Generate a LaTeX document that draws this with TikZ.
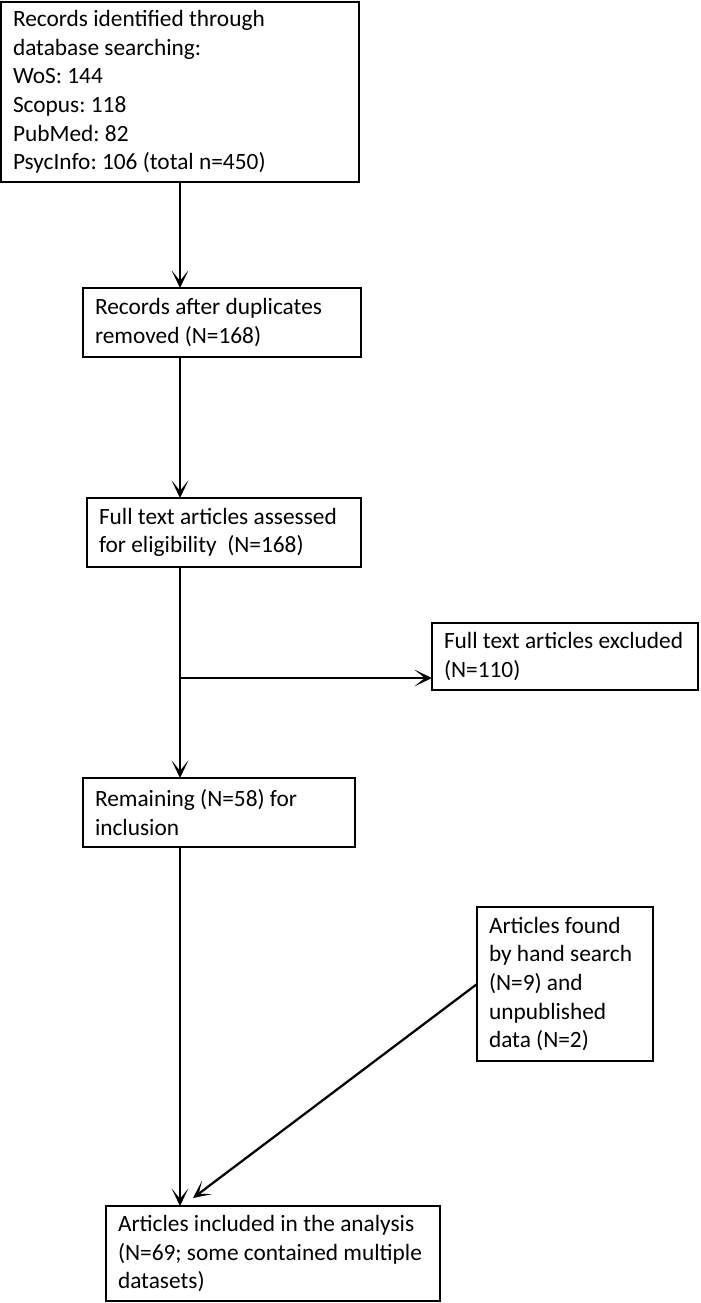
\documentclass[tikz,border=0pt]{standalone}
\usepackage{fontspec}
\setmainfont{Carlito}
\frenchspacing
\usetikzlibrary{arrows.meta, calc}
\tikzset{
	flowbox/.style={draw, line width=1.1pt, anchor=north west, align=flush left, inner xsep=0.3cm, inner ysep=0.1cm, outer sep=0pt,
		font=\fontsize{16.6}{20.3}\selectfont},
	flowarrow/.style={-{Stealth[length=0.44cm, width=0.42cm, inset=0.26cm]}, line width=1.6pt}
}

\begin{document}
\begin{tikzpicture}[x=0.025cm, y=-0.025cm]
		\useasboundingbox (0,0) rectangle (700,1303);
		
		\node[flowbox, text width=8.35cm, minimum height=4.5cm] (rec) at (1,2) {Records identified through\\database searching:\\WoS: 144\\Scopus: 118\\PubMed: 82\\PsycInfo: 106 (total n=450)};
		\node[flowbox, text width=6.35cm, minimum height=1.725cm] (dup) at (83,288) {Records after duplicates\\removed (N=168)};
		\node[flowbox, text width=6.25cm, minimum height=1.725cm] (full) at (87,498) {Full text articles assessed\\for eligibility~ (N=168)};
		\node[flowbox, text width=6.05cm, minimum height=1.675cm] (excl) at (432,623) {Full text articles excluded\\(N=110)};
		\node[flowbox, text width=6.2cm, minimum height=1.725cm] (rem) at (83,778) {Remaining (N=58) for\\inclusion};
		\node[flowbox, text width=3.8cm, minimum height=3.85cm] (hand) at (477,907) {Articles found\\by hand search\\(N=9) and\\unpublished\\data (N=2)};
		\node[flowbox, text width=7.75cm, minimum height=2.375cm] (incl) at (106,1206) {Articles included in the analysis\\(N=69; some contained multiple\\datasets)};
		
		\coordinate (spine) at (180,0);
		\coordinate (split) at (180,678);
		\coordinate (join) at (193,1198);
		
		\draw[flowarrow] (rec.south -| spine) -- (dup.north -| spine);
		\draw[flowarrow] (dup.south -| spine) -- (full.north -| spine);
		\draw[flowarrow] (full.south -| spine) -- (rem.north -| spine);
		\draw[flowarrow] (split) -- (split -| excl.west);
		\draw[flowarrow] (rem.south -| spine) -- (incl.north -| spine);
		\draw[flowarrow] (hand.west) -- (join);
	\end{tikzpicture}
\end{document}
